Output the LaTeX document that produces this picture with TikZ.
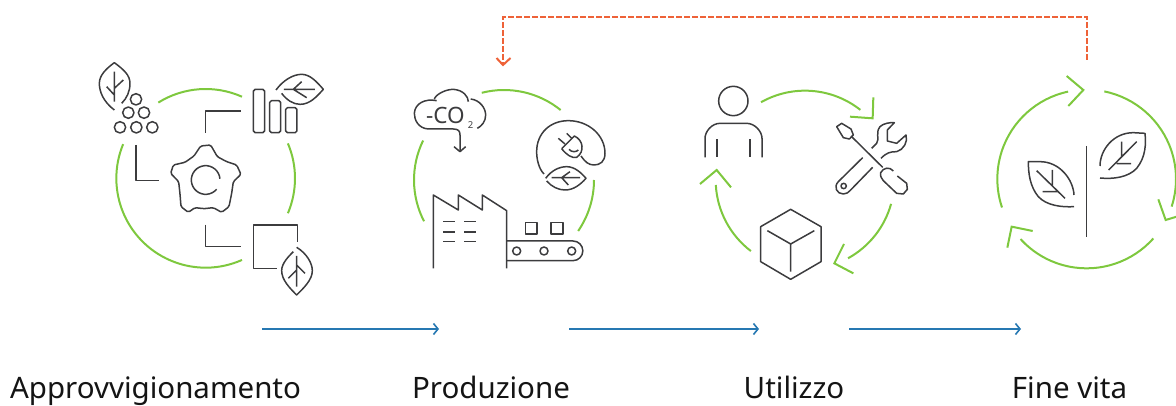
\documentclass[tikz,border=0pt]{standalone}
\usepackage{fontspec}
\setmainfont{Noto Sans}
\usetikzlibrary{arrows.meta}
\definecolor{iconColor}{RGB}{60,60,62}
\definecolor{ringColor}{RGB}{126,200,62}
\definecolor{flowColor}{RGB}{38,120,178}
\definecolor{backColor}{RGB}{238,98,56}
\tikzset{
  iconline/.style={draw=iconColor,line width=1.5pt,line join=round,line cap=butt},
  ringline/.style={draw=ringColor,line width=2pt,line join=miter},
  flowline/.style={draw=flowColor,line width=1.5pt,-{Straight Barb[length=4.5pt,width=11pt,line width=1.6pt]}},
  backline/.style={draw=backColor,line width=1.9pt,dash pattern=on 6pt off 2pt},
  backtip/.style={draw=backColor,line width=2pt},
  stagelabel/.style={anchor=base,inner sep=0pt,outer sep=0pt,font=\fontsize{29.5}{32}\selectfont,text=black!92},
  icon/.style={xscale=1/3,yscale=-1/3}
}
\newcommand{\ringarc}[5]{\draw[ringline] ([shift={(#4:#3)}]#1,#2) arc[start angle=#4,end angle=#5,radius=#3];}
\begin{document}
\begin{tikzpicture}[x=1pt,y=1pt]
\path[use as bounding box] (0,0) rectangle (1176,405);
\clip (0,0) rectangle (1176,405);

% supply
\begin{scope}[shift={(80,355)},icon]
\ringarc{377}{385}{268}{238}{294}
\ringarc{377}{385}{268}{-23}{23}
\ringarc{377}{385}{268}{66}{202.5}
\draw[iconline] (103,180) .. controls (70,155) and (58,125) .. (58,100) .. controls (58,75) and (80,55) .. (103,38) .. controls (130,58) and (150,75) .. (150,100) .. controls (150,125) and (140,145) .. (125,160);
\draw[iconline] (103,65) -- (103,155) (80,110) -- (103,135) (130,90) -- (103,115);
\foreach \cx/\cy in {168/148,145/188,192/188,120/232,169/232,217/232}
  \draw[iconline] (\cx,\cy) circle[radius=17];
\draw[iconline] (168,285) -- (168,392) -- (236,392);
\draw[iconline] (376,248) -- (376,183) -- (484,183);
\draw[iconline] (376,524) -- (376,590) -- (484,590);
\draw[iconline,rounded corners=1.8pt] (520,118) rectangle (554,248);
\draw[iconline,rounded corners=1.8pt] (569,152) rectangle (602,248);
\draw[iconline,rounded corners=1.8pt] (617,173) rectangle (651,248);
\draw[iconline] (588,120) .. controls (610,90) and (640,73) .. (665,73) .. controls (690,73) and (710,95) .. (730,118) .. controls (710,140) and (690,163) .. (660,163) .. controls (640,163) and (620,150) .. (605,130);
\draw[iconline] (612,118) -- (705,118) (665,95) -- (640,118) -- (680,143);
\draw[iconline,rounded corners=1.5pt] (362,288) -- (392,285) -- (412,320) -- (440,335) -- (470,345) -- (483,373) -- (460,395) -- (455,430) -- (447,470) -- (425,487) -- (400,473) -- (372,476) -- (345,473) -- (325,487) -- (303,470) -- (300,432) -- (296,395) -- (272,370) -- (280,345) -- (315,337) -- (342,318) -- cycle;
\draw[iconline] ([shift={(40:43)}]377,390) arc[start angle=40,end angle=355,radius=43];
\draw[iconline] (652,575) -- (652,525) -- (520,525) -- (520,655) -- (590,655);
\draw[iconline] (650,592) .. controls (680,610) and (697,640) .. (697,662) .. controls (697,690) and (670,715) .. (650,735) .. controls (630,715) and (605,690) .. (605,662) .. controls (605,640) and (625,620) .. (640,605);
\draw[iconline] (650,618) -- (650,710) (625,685) -- (650,660) (675,670) -- (650,645);
\end{scope}

% production
\begin{scope}[shift={(400,355)},icon]
\ringarc{312}{390}{270}{255.7}{309}
\ringarc{312}{390}{270}{206}{152.7}
\ringarc{312}{390}{270}{0}{34.5}
\draw[iconline] (232,235) .. controls (245,228) and (257,215) .. (257,195) .. controls (257,175) and (240,150) .. (212,147);
\draw[iconline] (205,155) .. controls (205,140) and (190,120) .. (160,118) .. controls (135,118) and (105,135) .. (103,148);
\draw[iconline] (110,152) .. controls (75,145) and (45,160) .. (43,190) .. controls (43,210) and (55,235) .. (85,237) -- (160,237) .. controls (175,237) and (180,243) .. (180,255) -- (180,305);
\draw[iconline] (162,290) -- (180,305) -- (197,290);
\node[text=iconColor,inner sep=0pt,font=\fontsize{22.5}{24}\selectfont] (co) at (136,195) {-CO};
\node[text=iconColor,inner sep=0pt,font=\fontsize{9.5}{10}\selectfont] (cosub) at (212,226) {2};
\draw[iconline] (432,372) .. controls (415,355) and (410,325) .. (410,305) .. controls (410,250) and (450,212) .. (505,212) .. controls (565,212) and (615,255) .. (615,310) .. controls (615,335) and (600,345) .. (582,345) .. controls (565,345) and (555,335) .. (543,318);
\draw[iconline] (485,296) -- (523,258) .. controls (550,270) and (555,305) .. (530,322) .. controls (515,325) and (500,315) .. (485,296);
\draw[iconline] (475,265) -- (495,282) (500,250) -- (515,265);
\draw[iconline] (507,298) .. controls (515,308) and (530,306) .. (535,300);
\draw[iconline] (437,385) .. controls (455,360) and (480,350) .. (500,350) .. controls (525,350) and (545,370) .. (558,385) .. controls (540,405) and (520,420) .. (495,420) .. controls (475,420) and (455,410) .. (440,393);
\draw[iconline] (455,383) -- (540,383) (510,365) -- (485,383) -- (505,405);
\draw[iconline] (100,655) -- (100,435) -- (175,480) -- (175,435) -- (247,480) -- (247,435) -- (320,482) -- (320,655);
\foreach \wy in {515,546,575}
  \draw[iconline] (130,\wy) -- (165,\wy) (192,\wy) -- (227,\wy);
\draw[iconline] (320,573) -- (519,573) arc[start angle=-90,end angle=90,radius=29.5] -- (320,632);
\foreach \wx in {350,432,515}
  \draw[iconline] (\wx,603) circle[radius=12];
\draw[iconline] (377,518) rectangle (411,552);
\draw[iconline] (453,518) rectangle (489,552);
\end{scope}

% use
\begin{scope}[shift={(690,335)},icon]
\ringarc{345}{330}{268}{240.5}{308.3}
\ringarc{345}{330}{268}{15.5}{61.2}
\ringarc{345}{330}{268}{127.3}{176.8}
\draw[ringline] (550,82) -- (548,145) -- (480,140);
\draw[ringline] (462,522) -- (433,580) -- (490,610);
\draw[ringline] (30,342) -- (80,300) -- (123,352);
\draw[iconline] (130,93) circle[radius=44];
\draw[iconline] (45,262) -- (45,205) .. controls (45,185) and (65,160) .. (90,160) -- (170,160) .. controls (195,160) and (216,185) .. (216,205) -- (216,262);
\draw[iconline] (81,208) -- (81,262) (180,208) -- (180,262);
\draw[iconline] (440,170) -- (455,160) -- (483,177) -- (490,195) -- (478,207) -- (460,203) -- cycle;
\draw[iconline] (483,198) -- (578,292);
\draw[iconline] (610,303) .. controls (600,290) and (580,292) .. (572,308) .. controls (570,320) and (575,325) .. (580,332) -- (620,370) -- (640,372) -- (652,358) -- (650,340) -- (622,318);
\draw[iconline] (518,263) -- (445,335) .. controls (430,350) and (440,372) .. (460,372) .. controls (470,372) and (475,367) .. (480,362) -- (548,292);
\draw[iconline] (461,348) circle[radius=8];
\draw[iconline] (545,235) -- (560,220) .. controls (570,205) and (555,190) .. (570,170) .. controls (580,160) and (600,157) .. (613,158) -- (592,180) -- (592,213) -- (620,220) -- (648,195) .. controls (655,215) and (640,240) .. (620,245) .. controls (600,245) and (590,248) .. (573,265);
\draw[iconline] (302,418) -- (393,470) -- (393,575) -- (302,628) -- (212,575) -- (212,470) -- cycle;
\draw[iconline] (232,482) -- (302,522) -- (373,482) (302,522) -- (302,605);
\end{scope}

% end of life
\begin{scope}[shift={(980,345)},icon]
\ringarc{320}{357}{268}{258}{161.4}
\ringarc{320}{357}{268}{281.4}{378}
\ringarc{320}{357}{268}{41.7}{137.7}
\draw[ringline] (260,48) -- (310,90) -- (265,138);
\draw[ringline] (535,418) -- (557,480) -- (590,470);
\draw[ringline] (158,513) -- (95,500) -- (82,563);
\draw[iconline] (320,258) -- (320,530);
\draw[iconline] (360,318) .. controls (360,270) and (400,218) .. (460,218) -- (495,220) .. controls (498,250) and (498,290) .. (470,325) .. controls (445,352) and (400,358) .. (360,354);
\draw[iconline] (470,245) -- (386,330) (425,245) -- (425,290) (410,311) -- (453,311);
\draw[iconline] (282,405) .. controls (280,360) and (240,305) .. (180,305) -- (145,305) .. controls (145,340) and (150,380) .. (175,410) .. controls (200,437) and (245,442) .. (282,440);
\draw[iconline] (170,332) -- (255,415) (217,330) -- (217,378) (188,395) -- (232,395);
\end{scope}

% flow
\coordinate (supplyOut) at (262,76);
\coordinate (productionIn) at (439,76);
\coordinate (productionOut) at (569,76);
\coordinate (useIn) at (759,76);
\coordinate (useOut) at (849,76);
\coordinate (endIn) at (1021,76);
\draw[flowline] (supplyOut) -- (productionIn);
\draw[flowline] (productionOut) -- (useIn);
\draw[flowline] (useOut) -- (endIn);

% return path
\coordinate (endTop) at (1087,345);
\coordinate (backRight) at (1087,388);
\coordinate (backLeft) at (503,388);
\coordinate (productionTop) at (503,340);
\coordinate (tipLeft) at (496.5,347);
\coordinate (tipRight) at (510.5,347);
\draw[backline] (endTop) -- (backRight) -- (backLeft) -- (productionTop);
\draw[backtip] (tipLeft) -- (productionTop) -- (tipRight);

% labels
\node[stagelabel] (supply) at (155.5,7) {Approvvigionamento};
\node[stagelabel] (production) at (491,7) {Produzione};
\node[stagelabel] (use) at (794,7) {Utilizzo};
\node[stagelabel] (end) at (1069.5,7) {Fine vita};
\end{tikzpicture}
\end{document}
